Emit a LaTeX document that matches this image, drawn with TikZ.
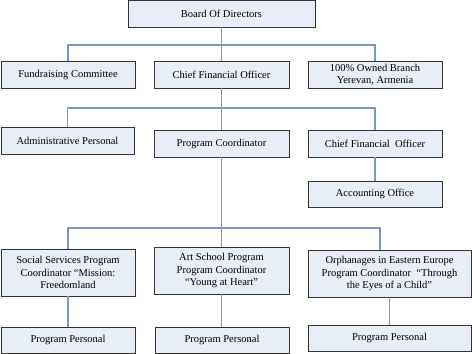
\documentclass[tikz,border=0pt]{standalone}
\usepackage{fontspec}
\setmainfont{Liberation Serif}
\definecolor{boxfill}{HTML}{E8EEF7}
\definecolor{linkcol}{HTML}{7B98C3}
\begin{document}
\begin{tikzpicture}[x=1pt,y=-1pt,
  orgbox/.style={draw=black!80, line width=0.9pt, fill=boxfill, inner sep=1pt,
    align=center, font=\fontsize{10.5}{12.5}\selectfont, anchor=center},
  link/.style={draw=linkcol, line width=1.1pt}]
\useasboundingbox (0,0) rectangle (472,354);
% row 1
\node[orgbox, minimum width=187pt, minimum height=27pt] (board) at (221.5,13.5) {Board Of Directors};
% row 2
\node[orgbox, minimum width=134pt, minimum height=27pt] (fund) at (68,74.5) {Fundraising Committee};
\node[orgbox, minimum width=135pt, minimum height=27pt] (cfo) at (221.5,74.5) {Chief Financial Officer};
\node[orgbox, minimum width=134pt, minimum height=27pt] (branch) at (375,74.5) {100\% Owned Branch\\Yerevan, Armenia};
% row 3
\node[orgbox, minimum width=133pt, minimum height=27pt] (admin) at (67.5,140.5) {Administrative Personal};
\node[orgbox, minimum width=135pt, minimum height=27pt] (pc) at (221.5,143.5) {Program Coordinator};
\node[orgbox, minimum width=134pt, minimum height=27pt] (cfo2) at (375,143.5) {Chief Financial\ \ Officer};
\node[orgbox, minimum width=134pt, minimum height=26pt] (acct) at (375,194) {Accounting Office};
% row 4
\node[orgbox, minimum width=134pt, minimum height=47pt] (social) at (68,272.5) {Social Services Program\\Coordinator “Mission:\\Freedomland};
\node[orgbox, minimum width=135pt, minimum height=47pt] (art) at (221.5,270.5) {Art School Program\\Program Coordinator\\“Young at Heart”};
\node[orgbox, minimum width=163pt, minimum height=47pt] (orph) at (389.5,273.5) {Orphanages in Eastern Europe\\Program Coordinator\ \ “Through\\the Eyes of a Child”};
% row 5
\node[orgbox, minimum width=134pt, minimum height=26pt] (pp1) at (68,340) {Program Personal};
\node[orgbox, minimum width=134pt, minimum height=26pt] (pp2) at (222,340) {Program Personal};
\node[orgbox, minimum width=163pt, minimum height=26pt] (pp3) at (389.5,338) {Program Personal};
% junctions
\coordinate (j1) at (221.5,45);
\coordinate (j2) at (221.5,108);
\coordinate (j3) at (221.5,228);
% connectors
\begin{scope}[on background layer/.style={}]
\draw[link] (board.south) -- (j1);
\draw[link] (j1) -| (fund.north);
\draw[link] (j1) -- (cfo.north);
\draw[link] (j1) -| (branch.north);
\draw[link] (cfo.south) -- (j2);
\draw[link] (j2) -| (admin.north);
\draw[link] (j2) -- (pc.north);
\draw[link] (j2) -| (cfo2.north);
\draw[link] (cfo2.south) -- (acct.north);
\draw[link] (pc.south) -- (j3);
\draw[link] (j3) -| (social.north);
\draw[link] (j3) -- (art.north);
\draw[link] (j3) -| ([xshift=-9.5pt]orph.north);
\draw[link] (social.south) -- (pp1.north);
\draw[link] (art.south) -- (art.south |- pp2.north);
\draw[link] (orph.south) -- (pp3.north);
\end{scope}
\end{tikzpicture}
\end{document}
